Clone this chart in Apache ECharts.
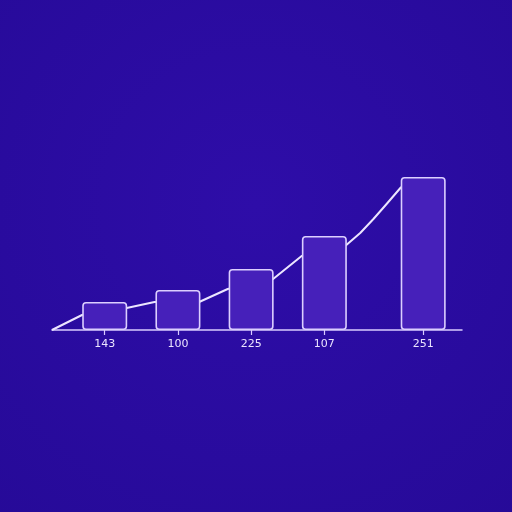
<!DOCTYPE html>
<html>
<head>
<meta charset="utf-8">
<script src="https://cdn.jsdelivr.net/npm/echarts@6/dist/echarts.min.js"></script>
<style>
html,body{margin:0;padding:0;background:#280b9c;}
#c{width:512px;height:512px;}
</style>
</head>
<body>
<div id="c"></div>
<script>
// Category labels and their positions along the (unevenly spaced) x axis
const categories = ['143', '100', '225', '107', '251'];
const categoryPos = [1, 2, 3, 4, 5.35];
// Bar values
const barValues = [28, 40, 61, 94, 153];
// Trend line points (x position, value)
const lineX = [0.28, 0.69, 1.30, 1.68, 2.29, 2.68, 3.30, 3.69, 4.30, 4.49, 4.67, 4.85, 5.05];
const lineY = [0, 15, 22, 28, 28, 41, 51, 74, 85, 97, 111, 126, 143];

const chart = echarts.init(document.getElementById('c'), null, {renderer: 'canvas'});

const labelFor = v => {
  let best = 0, d = Infinity;
  categoryPos.forEach((p, i) => { if (Math.abs(p - v) < d) { d = Math.abs(p - v); best = i; } });
  return categories[best];
};

chart.setOption({
  backgroundColor: {
    type: 'radial', x: 0.5, y: 0.4, r: 0.8,
    colorStops: [
      {offset: 0, color: '#2e0da8'},
      {offset: 1, color: '#260a98'}
    ]
  },
  animation: false,
  grid: {left: 52, right: 50, top: 130, bottom: 182},
  xAxis: {
    type: 'value',
    min: 0.28,
    max: 5.88,
    splitLine: {show: false},
    axisLine: {show: true, onZero: false, lineStyle: {color: '#d9ccff', width: 1.5}},
    axisTick: {show: true, customValues: categoryPos, length: 5, lineStyle: {color: '#d9ccff', width: 1.2}},
    axisLabel: {
      customValues: categoryPos,
      formatter: v => labelFor(v),
      color: '#ebe4ff',
      fontSize: 11,
      fontFamily: 'DejaVu Sans',
      margin: 9
    }
  },
  yAxis: {
    type: 'value', min: 0, max: 200, show: false,
    splitLine: {show: false}
  },
  series: [
    {
      type: 'line',
      data: lineX.map((x, i) => [x, lineY[i]]),
      smooth: false,
      symbol: 'none',
      lineStyle: {color: '#ece6ff', width: 2, join: 'round'},
      z: 1
    },
    {
      type: 'bar',
      data: categoryPos.map((x, i) => [x, barValues[i]]),
      barWidth: 45,
      itemStyle: {
        color: '#4620ba',
        borderColor: '#dccfff',
        borderWidth: 1.6,
        borderRadius: 3
      },
      z: 3
    }
  ]
});
</script>
</body>
</html>
